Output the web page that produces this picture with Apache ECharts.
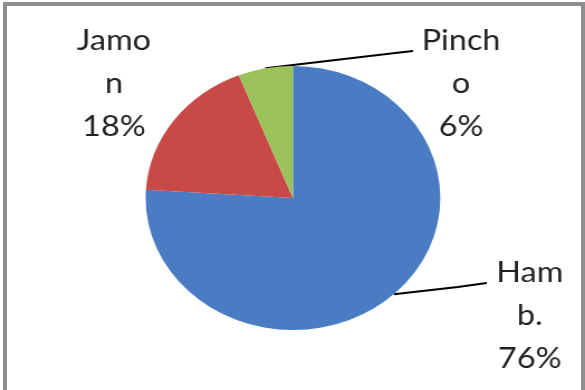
<!DOCTYPE html>
<html>
<head>
<meta charset="utf-8">
<script src="https://cdn.jsdelivr.net/npm/echarts@6/dist/echarts.min.js"></script>
<style>
  html, body { margin: 0; padding: 0; background: #ffffff; overflow: hidden; }
  #page { position: relative; width: 585px; height: 390px; overflow: hidden; background: #fff; }
  #frame {
    position: absolute; left: 3px; top: 2px; width: 582px; height: 420px;
    box-sizing: border-box; border: 4px solid #8e8e8e;
  }
  /* the plot is drawn on a narrower canvas and stretched sideways */
  #chart {
    position: absolute; left: 0; top: 0; width: 524px; height: 390px;
    transform: scaleX(1.1164); transform-origin: 0 0;
  }
</style>
</head>
<body>
<div id="page">
  <div id="chart"></div>
  <div id="frame"></div>
</div>
<script>
// Share of sales by product
const categories = ['Hamb.', 'Jamon', 'Pincho'];
const shares = [76, 18, 6];
const sliceColors = ['#4a7cc4', '#c84a47', '#9cc25a'];

// Where each label block sits (canvas pixels) and the leader line bends
const labelSpots = [
  { x: 474.5, y: 315.5, width: 70, line: [[410, 287], [436, 283]] },
  { x: 102, y: 84, width: 74, line: null },
  { x: 413, y: 84, width: 78, line: [[354, 53], [370, 51]] }
];

const chart = echarts.init(document.getElementById('chart'), null, { renderer: 'canvas' });

const data = categories.map((name, i) => ({
  name: name,
  value: shares[i],
  itemStyle: { color: sliceColors[i] },
  label: { width: labelSpots[i].width },
  labelLine: { show: !!labelSpots[i].line }
}));

chart.setOption({
  animation: false,
  backgroundColor: 'transparent',
  series: [{
    type: 'pie',
    center: [262.4, 198],
    radius: 132,
    startAngle: 90,
    clockwise: true,
    avoidLabelOverlap: false,
    data: data,
    itemStyle: { borderWidth: 0 },
    label: {
      show: true,
      position: 'outside',
      color: '#222222',
      fontFamily: 'Lato',
      fontSize: 29,
      lineHeight: 43,
      align: 'center',
      overflow: 'breakAll',
      formatter: p => p.name + '\n' + Math.round(p.percent) + '%'
    },
    labelLine: {
      show: true,
      length: 10,
      length2: 10,
      lineStyle: { color: '#000000', width: 2 }
    },
    labelLayout: function (params) {
      const spot = labelSpots[params.dataIndex];
      const out = { x: spot.x, y: spot.y, align: 'center', verticalAlign: 'middle' };
      if (spot.line && params.labelLinePoints) {
        out.labelLinePoints = [params.labelLinePoints[0]].concat(spot.line);
      }
      return out;
    }
  }]
});
</script>
</body>
</html>
